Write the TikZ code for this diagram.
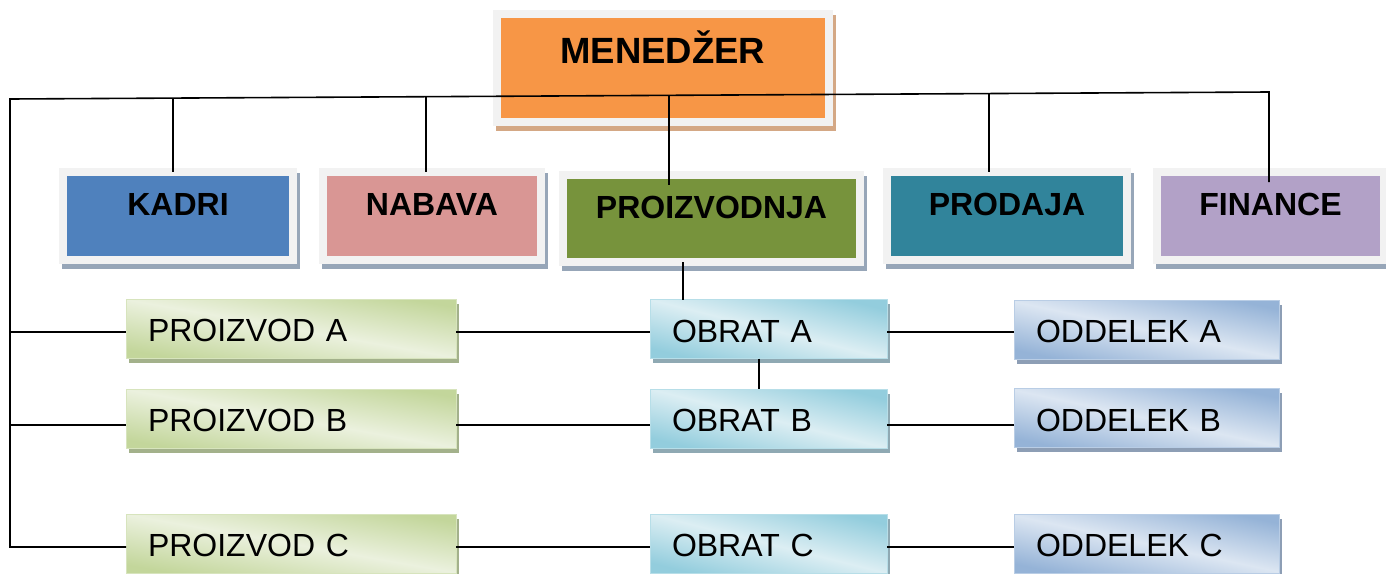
\documentclass[tikz,border=0pt]{standalone}
\usepackage{fontspec}
\setmainfont{Liberation Sans}
\usetikzlibrary{calc}
\definecolor{frame}{HTML}{F2F2F2}
\definecolor{orangeF}{HTML}{F79646}
\definecolor{orangeS}{HTML}{D4A885}
\definecolor{deptS}{HTML}{97A6B8}
\definecolor{kadriC}{HTML}{4F81BD}
\definecolor{nabavaC}{HTML}{D99694}
\definecolor{proizC}{HTML}{77933C}
\definecolor{prodajaC}{HTML}{31849B}
\definecolor{financeC}{HTML}{B2A1C7}
\definecolor{gDark}{HTML}{C3D69B}
\definecolor{gLight}{HTML}{EBF1DE}
\definecolor{gLine}{HTML}{D7E4BD}
\definecolor{gShadow}{HTML}{A3B18B}
\definecolor{cDark}{HTML}{93CDDD}
\definecolor{cLight}{HTML}{DCEEF3}
\definecolor{cLine}{HTML}{B7DEE8}
\definecolor{cShadow}{HTML}{8FA9B3}
\definecolor{bDark}{HTML}{95B3D7}
\definecolor{bLight}{HTML}{DCE6F2}
\definecolor{bLine}{HTML}{B9CDE5}
\definecolor{bShadow}{HTML}{8D9EB5}
\tikzset{
  conn/.style={line width=1.6pt, black},
  framebox/.style={draw=frame, line width=8pt, inner sep=0pt, outer sep=0pt,
    text height=20pt, text depth=20pt,
    font=\fontsize{32}{38}\selectfont\bfseries,
    preaction={draw=#1, fill=#1, transform canvas={shift={(3pt,-5pt)}}}},
  sub/.style={minimum height=59pt, inner xsep=22pt, inner ysep=0pt, outer sep=0pt,
    align=left, text height=26pt, text depth=0pt, line width=1pt,
    font=\fontsize{32}{38}\selectfont},
  prodbox/.style={sub, text width=286pt, top color=gDark, bottom color=gDark, middle color=gLight,
    shading angle=-10, draw=gLine,
    preaction={fill=gShadow, transform canvas={shift={(3pt,-4.5pt)}}}},
  obratbox/.style={sub, text width=193pt, top color=cDark, bottom color=cDark, middle color=cLight,
    shading angle=-14, draw=cLine,
    preaction={fill=cShadow, transform canvas={shift={(3pt,-4.5pt)}}}},
  oddbox/.style={sub, text width=221pt, top color=bDark, bottom color=bDark, middle color=bLight,
    shading angle=-12, draw=bLine,
    preaction={fill=bShadow, transform canvas={shift={(3pt,-4.5pt)}}}},
}
\begin{document}
\begin{tikzpicture}[x=1pt, y=-1pt]
\useasboundingbox (0,0) rectangle (1386,573);
% top
\node[framebox=orangeS, fill=orangeF, minimum width=331.5pt, minimum height=108pt,
  text height=20pt, text depth=30pt, font=\fontsize{36.5}{40}\selectfont\bfseries]
  (men) at (662.75,68) {MENEDŽER};
% departments
\node[framebox=deptS, fill=kadriC, minimum width=230pt, minimum height=87.5pt] (kadri) at (178,215.75) {KADRI};
\node[framebox=deptS, fill=nabavaC, minimum width=218pt, minimum height=87.5pt] (nabava) at (432,215.75) {NABAVA};
\node[framebox=deptS, fill=proizC, minimum width=297pt, minimum height=87.5pt] (proiz) at (711.5,218.25) {PROIZVODNJA};
\node[framebox=deptS, fill=prodajaC, minimum width=240pt, minimum height=87.5pt] (prodaja) at (1007,215.75) {PRODAJA};
\node[framebox=deptS, fill=financeC, minimum width=227pt, minimum height=87.5pt] (finance) at (1270.5,215.75) {FINANCE};
% sub boxes
\node[prodbox] (pa) at (291,328.5) {PROIZVOD A};
\node[prodbox] (pb) at (291,418.5) {PROIZVOD B};
\node[prodbox] (pc) at (291,543.5) {PROIZVOD C};
\node[obratbox] (oa) at (768.5,329) {OBRAT A};
\node[obratbox] (ob) at (768.5,418.5) {OBRAT B};
\node[obratbox] (oc) at (768.5,543.5) {OBRAT C};
\node[oddbox] (da) at (1146.5,329.5) {ODDELEK A};
\node[oddbox] (db) at (1146.5,418) {ODDELEK B};
\node[oddbox] (dc) at (1146.5,543.5) {ODDELEK C};
% bus coordinates
\coordinate (busL) at (10,99);
\coordinate (busR) at (1269,92);
\coordinate (rA) at (0,332);
\coordinate (rB) at (0,425);
\coordinate (rC) at (0,547);
% main bus
\draw[conn] ([yshift=-10pt]finance.north -| busR) -- (busR) -- (busL) -- (busL |- rC) -- (pc.west |- rC);
\draw[conn] (busL |- rA) -- (pa.west |- rA);
\draw[conn] (busL |- rB) -- (pb.west |- rB);
% drops
\draw[conn] (173,98.1) -- (kadri.north -| 173,0);
\draw[conn] (426,96.7) -- (nabava.north -| 426,0);
\draw[conn] (669,95.3) -- ([yshift=-10pt]proiz.north -| 669,0);
\draw[conn] (989,93.6) -- (prodaja.north -| 989,0);
% proizvodnja to obrat
\draw[conn] (proiz.south -| 683,0) -- (oa.north -| 683,0);
\draw[conn] (oa.south -| 759,0) -- (ob.north -| 759,0);
% rows
\draw[conn] (pa.east |- rA) -- (oa.west |- rA);
\draw[conn] (oa.east |- rA) -- (da.west |- rA);
\draw[conn] (pb.east |- rB) -- (ob.west |- rB);
\draw[conn] (ob.east |- rB) -- (db.west |- rB);
\draw[conn] (pc.east |- rC) -- (oc.west |- rC);
\draw[conn] (oc.east |- rC) -- (dc.west |- rC);
\end{tikzpicture}
\end{document}
